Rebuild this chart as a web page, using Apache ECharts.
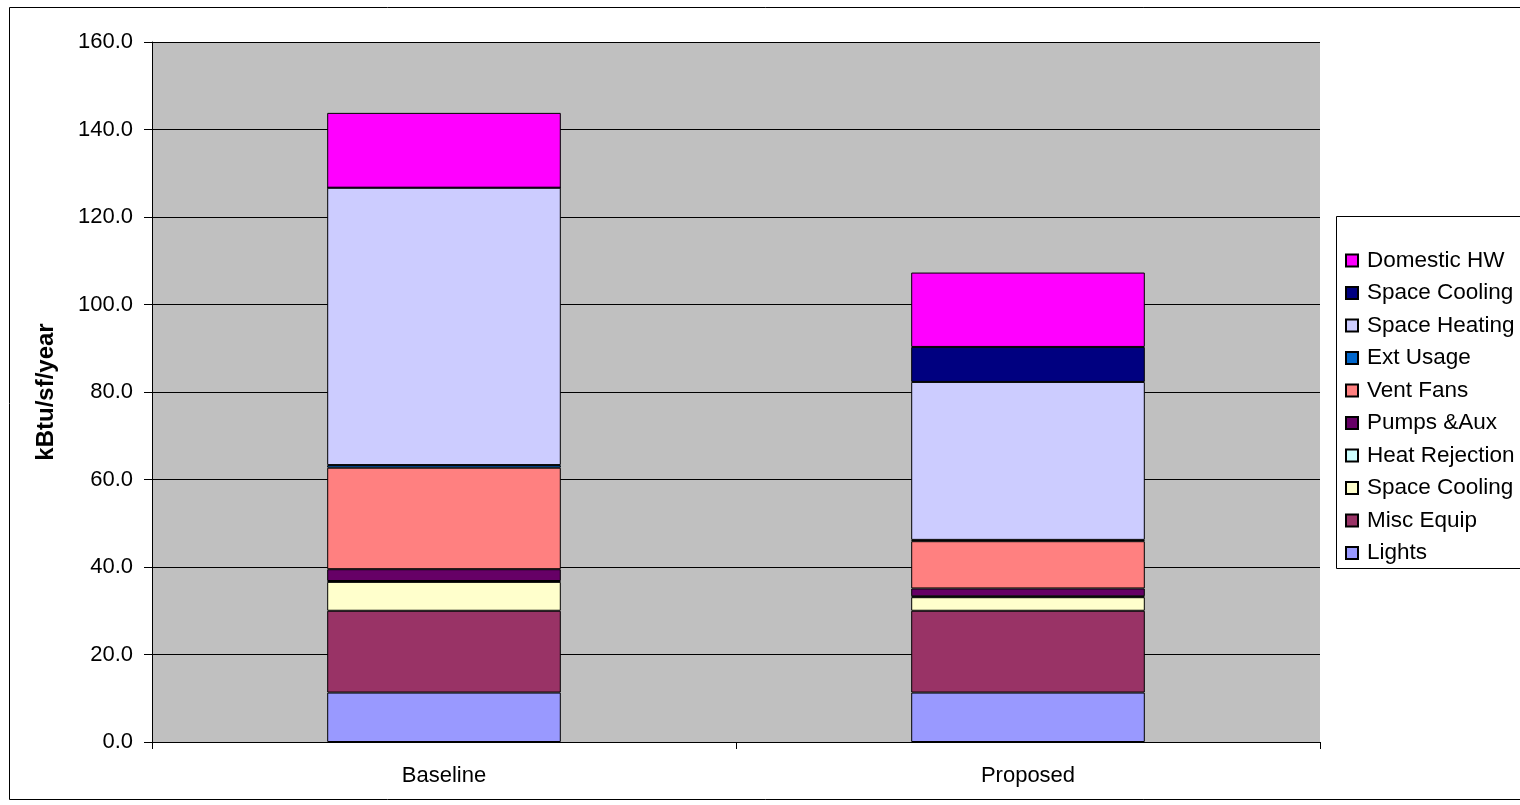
<!DOCTYPE html>
<html><head><meta charset="utf-8">
<script src="https://cdn.jsdelivr.net/npm/echarts@6/dist/echarts.min.js"></script>
<style>html,body{margin:0;padding:0;background:#fff}#c{width:1520px;height:805px}</style>
</head><body><div id="c"></div>
<script>
const categories = ['Baseline', 'Proposed'];
const yTicks = [0, 20, 40, 60, 80, 100, 120, 140, 160];
// stack order bottom -> top
const seriesNames = ['Lights', 'Misc Equip', 'Space Cooling ', 'Heat Rejection', 'Pumps &Aux', 'Vent Fans', 'Ext Usage', 'Space Heating', 'Space Cooling', 'Domestic HW'];
const lights        = [11.3, 11.3];
const miscEquip     = [18.7, 18.7];
const spaceCoolingA = [6.6, 3.1];
const heatRejection = [0.2, 0.2];
const pumpsAux      = [2.7, 1.8];
const ventFans      = [23.2, 10.8];
const extUsage      = [0.6, 0.3];
const spaceHeating  = [63.4, 36.1];
const spaceCoolingB = [0.0, 8.0];
const domesticHW    = [17.1, 17.0];
const seriesValues = [lights, miscEquip, spaceCoolingA, heatRejection, pumpsAux, ventFans, extUsage, spaceHeating, spaceCoolingB, domesticHW];
const colors = ['#9999ff', '#993366', '#ffffcc', '#ccffff', '#660066', '#ff8080', '#0066cc', '#ccccff', '#000080', '#ff00ff'];

const chart = echarts.init(document.getElementById('c'), null, {renderer: 'canvas'});
const FONT = 'Liberation Sans, Arial, sans-serif';
chart.setOption({
  animation: false,
  backgroundColor: '#ffffff',
  graphic: [
    {type: 'rect', shape: {x: 9.5, y: 7.5, width: 1520, height: 792}, style: {fill: 'none', stroke: '#000', lineWidth: 1}, z: 0},
    {type: 'rect', shape: {x: 1336.5, y: 216.5, width: 200, height: 352}, style: {fill: '#fff', stroke: '#000', lineWidth: 1}, z: 1}
  ],
  grid: {left: 152, right: 200, top: 42, bottom: 63, backgroundColor: '#c0c0c0', show: true, borderWidth: 0},
  legend: {
    orient: 'vertical', left: 1345, top: 249, padding: 0, itemGap: 9.5, itemWidth: 12, itemHeight: 12,
    data: seriesNames.slice().reverse(),
    textStyle: {fontFamily: FONT, fontSize: 22.5, lineHeight: 23, color: '#000', padding: [0, 0, 0, 4]},
    icon: 'rect', z: 5
  },
  xAxis: {
    type: 'category', data: categories,
    axisLine: {lineStyle: {color: '#000', width: 1}},
    axisTick: {show: true, length: 7, lineStyle: {color: '#000'}},
    axisLabel: {fontFamily: FONT, fontSize: 22, color: '#000', margin: 23}
  },
  yAxis: {
    type: 'value', min: 0, max: 160, interval: 20,
    name: 'kBtu/sf/year', nameLocation: 'middle', nameGap: 94,
    nameTextStyle: {fontFamily: FONT, fontSize: 24, fontWeight: 'bold', color: '#000'},
    axisLine: {show: true, lineStyle: {color: '#000', width: 1}},
    axisTick: {show: true, inside: false, length: 8, lineStyle: {color: '#000'}},
    axisLabel: {fontFamily: FONT, fontSize: 22, color: '#000', margin: 19, formatter: v => yTicks.includes(v) ? v.toFixed(1) : ''},
    splitLine: {show: true, lineStyle: {color: '#000', width: 1}}
  },
  series: seriesNames.map((n, i) => ({
    name: n, type: 'bar', stack: 'total', data: seriesValues[i], barWidth: '40%',
    itemStyle: {color: colors[i], borderColor: '#000', borderWidth: 1}
  }))
});
</script></body></html>
